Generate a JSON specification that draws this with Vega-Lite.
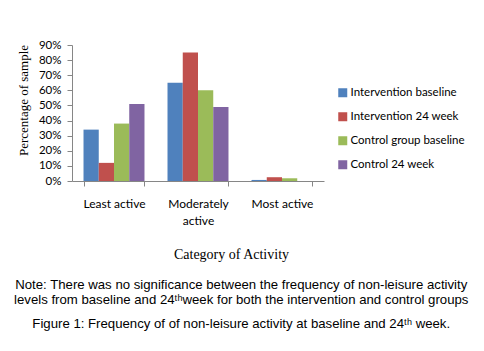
{
  "$schema": "https://vega.github.io/schema/vega-lite/v6.json",
  "width": 252,
  "height": 136,
  "padding": {"left": 14, "top": 39, "right": 5, "bottom": 5},
  "background": "white",
  "data": {
    "values": [
      {"category": "Least active", "group": "Intervention baseline", "value": 0.34},
      {"category": "Least active", "group": "Intervention 24 week", "value": 0.12},
      {"category": "Least active", "group": "Control group baseline", "value": 0.38},
      {"category": "Least active", "group": "Control 24 week", "value": 0.51},
      {"category": "Moderately active", "group": "Intervention baseline", "value": 0.65},
      {"category": "Moderately active", "group": "Intervention 24 week", "value": 0.85},
      {"category": "Moderately active", "group": "Control group baseline", "value": 0.60},
      {"category": "Moderately active", "group": "Control 24 week", "value": 0.49},
      {"category": "Most active", "group": "Intervention baseline", "value": 0.007},
      {"category": "Most active", "group": "Intervention 24 week", "value": 0.025},
      {"category": "Most active", "group": "Control group baseline", "value": 0.018},
      {"category": "Most active", "group": "Control 24 week", "value": 0.0}
    ]
  },
  "mark": {"type": "bar"},
  "encoding": {
    "x": {
      "field": "category",
      "type": "nominal",
      "sort": null,
      "scale": {"paddingInner": 0.274, "paddingOuter": 0.137},
      "axis": {
        "title": "Category of Activity",
        "titleFont": "Liberation Serif",
        "titleFontSize": 14,
        "titleFontWeight": "normal",
        "titleX": 159,
        "titlePadding": 21,
        "labelAngle": 0,
        "tickBand": "extent",
        "labelPadding": 12,
        "labelLineHeight": 17,
        "labelExpr": "datum.value == 'Moderately active' ? ['Moderately', 'active'] : datum.value"
      }
    },
    "xOffset": {
      "field": "group",
      "type": "nominal",
      "sort": ["Intervention baseline", "Intervention 24 week", "Control group baseline", "Control 24 week"],
      "scale": {"paddingInner": 0, "paddingOuter": 0}
    },
    "y": {
      "field": "value",
      "type": "quantitative",
      "scale": {"domain": [0, 0.9]},
      "axis": {
        "title": "Percentage of sample",
        "format": ".0%",
        "values": [0, 0.1, 0.2, 0.3, 0.4, 0.5, 0.6, 0.7, 0.8, 0.9],
        "titleFont": "Liberation Serif",
        "titleFontSize": 13,
        "titleFontWeight": "normal",
        "titleY": 55,
        "titlePadding": 8,
        "labelPadding": 6,
        "labelFontSize": 11.5
      }
    },
    "color": {
      "field": "group",
      "type": "nominal",
      "scale": {
        "domain": ["Intervention baseline", "Intervention 24 week", "Control group baseline", "Control 24 week"],
        "range": ["#4F81BD", "#C0504D", "#9BBB59", "#8064A2"]
      },
      "legend": {
        "title": null,
        "orient": "none",
        "legendX": 265,
        "legendY": 42,
        "symbolType": "square",
        "symbolSize": 81,
        "symbolStrokeWidth": 0,
        "labelFont": "Lato",
        "labelFontSize": 11.5,
        "labelColor": "#000000",
        "labelOffset": 2,
        "rowPadding": 11
      }
    }
  },
  "title": {
    "text": [
      "Note: There was no significance between the frequency of non-leisure activity",
      "levels from baseline and 24ᵗʰweek for both the intervention and control groups"
    ],
    "orient": "bottom",
    "anchor": "middle",
    "frame": "bounds",
    "offset": 18,
    "font": "Liberation Sans",
    "fontSize": 13.2,
    "fontWeight": "normal",
    "lineHeight": 15,
    "color": "#000000",
    "subtitle": "Figure 1: Frequency of of non-leisure activity at baseline and 24ᵗʰ week.",
    "subtitleFont": "Liberation Sans",
    "subtitleFontSize": 13.2,
    "subtitleColor": "#000000",
    "subtitlePadding": 11
  },
  "config": {
    "view": {"stroke": null},
    "axis": {
      "grid": false,
      "labelFont": "Lato",
      "labelFontSize": 12,
      "labelColor": "#000000",
      "domainColor": "#868686",
      "tickColor": "#868686",
      "tickSize": 5,
      "titleColor": "#000000"
    }
  }
}
